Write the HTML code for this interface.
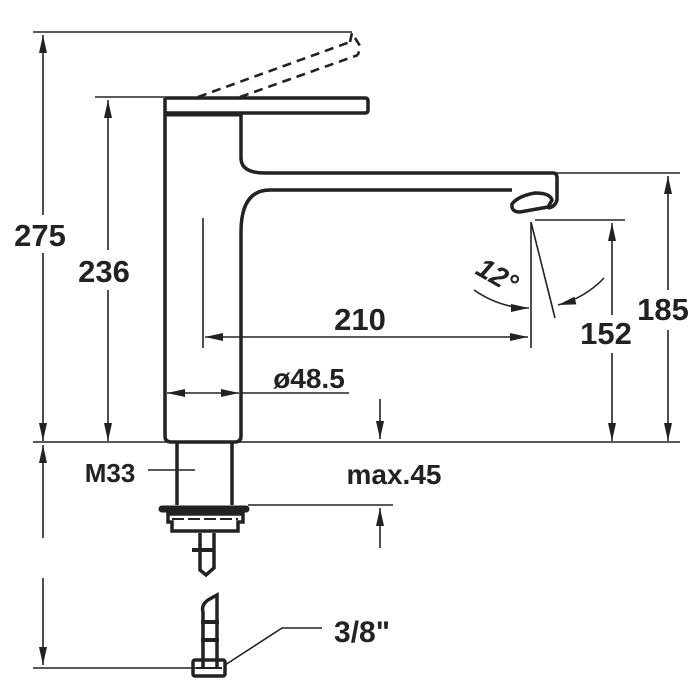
<!DOCTYPE html>
<html><head><style>html,body{margin:0;padding:0;background:#fff}svg{display:block}text{font-family:"Liberation Sans",sans-serif;font-weight:bold;fill:#222}</style></head>
<body>
<svg width="700" height="700" viewBox="0 0 700 700" xmlns="http://www.w3.org/2000/svg">
<defs>
<marker id="a" viewBox="0 0 10 10" refX="10" refY="5" markerWidth="18" markerHeight="8" markerUnits="userSpaceOnUse" orient="auto-start-reverse" preserveAspectRatio="none"><path d="M0,0 L10,5 L0,10 z" fill="#222"/></marker>
</defs>
<g stroke="#222" fill="none">
<line x1="33" y1="32" x2="352" y2="32" stroke-width="1.6"/>
<line x1="95" y1="97" x2="165" y2="97" stroke-width="1.6"/>
<line x1="555" y1="173" x2="680" y2="173" stroke-width="1.6"/>
<line x1="535" y1="220" x2="625" y2="220" stroke-width="1.6"/>
<line x1="33" y1="442" x2="680" y2="442" stroke-width="1.6"/>
<line x1="248" y1="505" x2="393" y2="505" stroke-width="1.6"/>
<line x1="33" y1="668" x2="196" y2="668" stroke-width="1.6"/>
<path d="M198,97 L350,42 M240,97 L358,55 M350,42 L352,33 L360,46 L358,55" stroke-width="2.6" stroke-dasharray="9,6"/>
<path d="M165,98 L365,98 Q368,98 368,101 L368,110 Q368,113 365,113 L165,113" stroke-width="3.5"/>
<line x1="165" y1="114" x2="241" y2="114" stroke-width="5"/>
<path d="M165,98 L165,436 Q165,442 171,442 L235,442 Q241,442 241,436 L241,232 Q241,190 270,190 L512,190" stroke-width="3.5"/>
<path d="M241,114 L241,158 Q241,173 265,173 L553,173 Q557,173 557,178 L557,200 Q555,207 548,208" stroke-width="3.5"/>
<path d="M512,204 Q518,196 535,193 Q550,193 552,200 L548,207 L520,212 Q511,212 512,204 Z" stroke-width="3.5"/>
<line x1="43" y1="35" x2="43" y2="215" stroke-width="1.6" marker-start="url(#a)"/>
<line x1="43" y1="253" x2="43" y2="441" stroke-width="1.6" marker-end="url(#a)"/>
<line x1="108" y1="100" x2="108" y2="250" stroke-width="1.6" marker-start="url(#a)"/>
<line x1="108" y1="290" x2="108" y2="441" stroke-width="1.6" marker-end="url(#a)"/>
<line x1="668" y1="176" x2="668" y2="290" stroke-width="1.6" marker-start="url(#a)"/>
<line x1="668" y1="330" x2="668" y2="441" stroke-width="1.6" marker-end="url(#a)"/>
<line x1="612" y1="223" x2="612" y2="315" stroke-width="1.6" marker-start="url(#a)"/>
<line x1="612" y1="353" x2="612" y2="441" stroke-width="1.6" marker-end="url(#a)"/>
<line x1="43" y1="445" x2="43" y2="538" stroke-width="1.6" marker-start="url(#a)"/>
<line x1="43" y1="578" x2="43" y2="665" stroke-width="1.6" marker-end="url(#a)"/>
<line x1="203" y1="218" x2="203" y2="348" stroke-width="1.6"/>
<line x1="531" y1="222" x2="531" y2="348" stroke-width="1.6"/>
<line x1="531" y1="222" x2="555" y2="318" stroke-width="1.6"/>
<line x1="205" y1="337" x2="528" y2="337" stroke-width="1.6" marker-start="url(#a)" marker-end="url(#a)"/>
<line x1="167" y1="393" x2="239" y2="393" stroke-width="1.6" marker-start="url(#a)" marker-end="url(#a)"/>
<line x1="241" y1="393" x2="349" y2="393" stroke-width="1.6"/>
<line x1="380" y1="399" x2="380" y2="439" stroke-width="1.6" marker-end="url(#a)"/>
<line x1="380" y1="548" x2="380" y2="508" stroke-width="1.6" marker-end="url(#a)"/>
<path d="M474,290 Q500,308 529,308" stroke-width="1.6" marker-end="url(#a)"/>
<path d="M604,278 Q585,298 558,305" stroke-width="1.6" marker-end="url(#a)"/>
<line x1="148" y1="470" x2="195" y2="470" stroke-width="1.6"/>
<path d="M177,443 L177,505 M232,443 L232,505" stroke-width="3.5"/>
<line x1="162" y1="509" x2="246" y2="509" stroke-width="7" stroke-linecap="round"/>
<path d="M168,514 L243,514 L243,522 L238,522 L238,531 L172,531 L172,522 L168,522 Z" stroke-width="3.5"/>
<line x1="172" y1="519" x2="238" y2="519" stroke-width="2" stroke-dasharray="12,4"/>
<path d="M200,533 L200,570 L206,575 L214,568 L214,533" stroke-width="3.5"/>
<line x1="192" y1="550" x2="214" y2="550" stroke-width="4"/>
<path d="M203,668 L203,612 Q201,605 208,600 L217,595 L217,668" stroke-width="3.5"/>
<path d="M201,622 L219,622 M201,640 L219,640" stroke-width="4"/>
<rect x="193" y="660" width="32" height="16" rx="2" stroke-width="3.5"/>
<line x1="196" y1="668" x2="222" y2="668" stroke-width="2"/>
<path d="M225,665 L282,628 L322,628" stroke-width="1.6"/>
</g>
<text x="40" y="246" font-size="31" text-anchor="middle">275</text>
<text x="104" y="282" font-size="31" text-anchor="middle">236</text>
<text x="663" y="320" font-size="31" text-anchor="middle">185</text>
<text x="606" y="344" font-size="31" text-anchor="middle">152</text>
<text x="360" y="330" font-size="31" text-anchor="middle">210</text>
<text x="309" y="388" font-size="28" text-anchor="middle">ø48.5</text>
<text x="394" y="484" font-size="28" text-anchor="middle">max.45</text>
<text x="110" y="482" font-size="26" text-anchor="middle">M33</text>
<text x="362" y="642" font-size="30" text-anchor="middle">3/8"</text>
<text x="497" y="285" font-size="28" text-anchor="middle" font-weight="normal" style="font-style:italic" transform="rotate(30 497 276)">12°</text>
</svg>
</body></html>
